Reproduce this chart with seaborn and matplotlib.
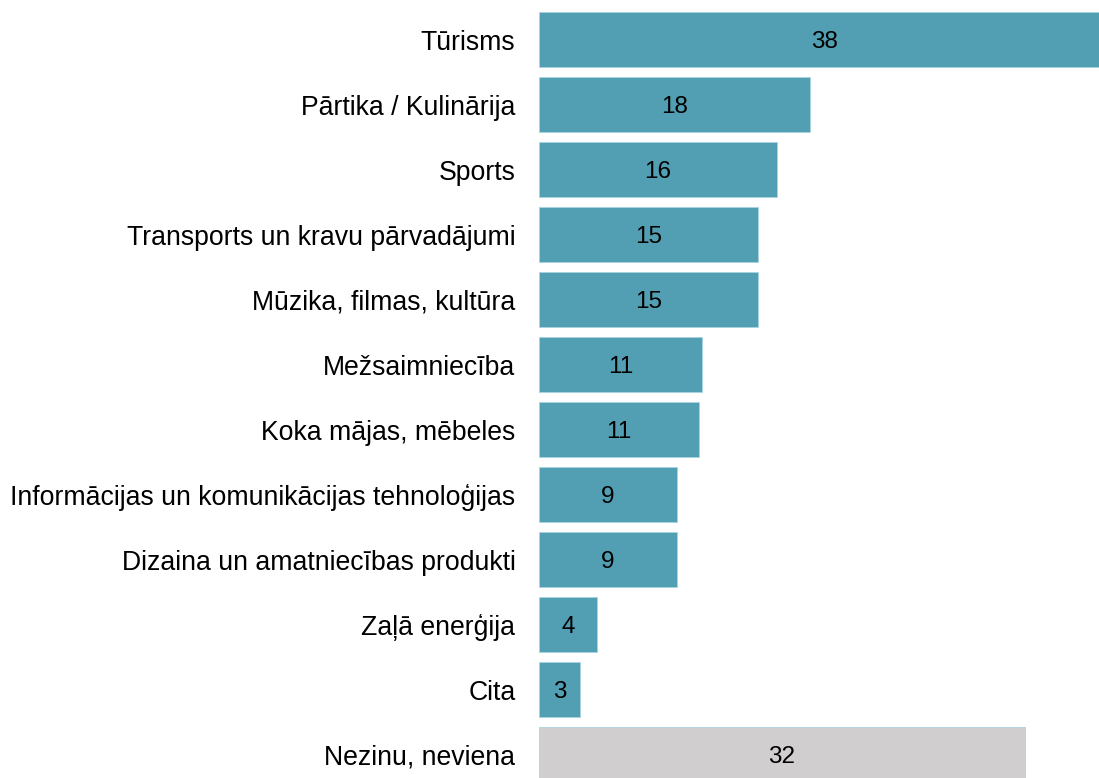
import pandas as pd
import seaborn as sns
import matplotlib.pyplot as plt

# Data
categories = [
    "Tūrisms",
    "Pārtika / Kulinārija",
    "Sports",
    "Transports un kravu pārvadājumi",
    "Mūzika, filmas, kultūra",
    "Mežsaimniecība",
    "Koka mājas, mēbeles",
    "Informācijas un komunikācijas tehnoloģijas",
    "Dizaina un amatniecības produkti",
    "Zaļā enerģija",
    "Cita",
    "Nezinu, neviena",
]
values = [37.7, 17.9, 15.7, 14.5, 14.5, 10.8, 10.6, 9.1, 9.1, 3.8, 2.7, 32.1]
value_labels = ["38", "18", "16", "15", "15", "11", "11", "9", "9", "4", "3", "32"]
groups = ["main"] * 11 + ["none"]

df = pd.DataFrame({"category": categories, "value": values, "group": groups})

sns.set_style("white")
plt.rcParams["font.family"] = ["Liberation Sans", "DejaVu Sans"]

fig = plt.figure(figsize=(10.99, 7.78), dpi=100)
ax = fig.add_axes([539 / 1099, 0, 560 / 1099, 1])

sns.barplot(
    data=df,
    y="category",
    x="value",
    hue="group",
    palette={"main": "#529fb4", "none": "#d0cecf"},
    saturation=1,
    orient="h",
    width=0.85,
    edgecolor="#a9d3df",
    linewidth=0.6,
    legend=False,
    ax=ax,
)

# Value labels in the middle of each bar
for i, (v, lab) in enumerate(zip(values, value_labels)):
    ax.text(v / 2, i, lab, ha="center", va="center_baseline",
            fontsize=17.5, color="black")

ax.set_xlim(0, 37)
ax.set_ylim(11.36, -0.61)
ax.set_xlabel("")
ax.set_ylabel("")
ax.set_xticks([])
ax.tick_params(axis="y", length=0, pad=17, labelsize=19.2, labelcolor="black")
sns.despine(ax=ax, left=True, bottom=True)

plt.savefig("out.png", dpi=100)
